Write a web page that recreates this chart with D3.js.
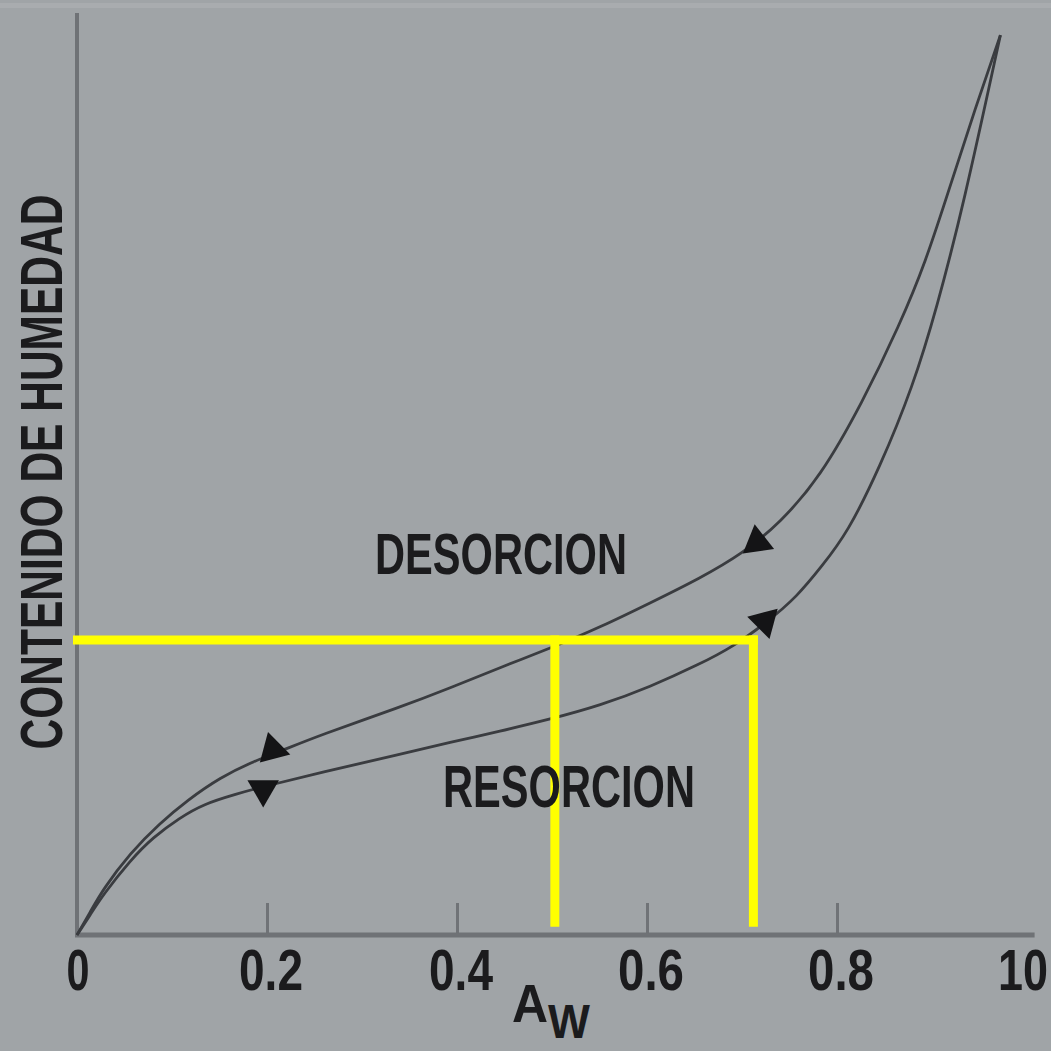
<!DOCTYPE html>
<html>
<head>
<meta charset="utf-8">
<script src="https://cdn.jsdelivr.net/npm/d3@7"></script>
<style>
  html, body { margin: 0; padding: 0; background: #a0a4a7; }
  svg { display: block; }
  text { font-family: "Liberation Sans", Arial, sans-serif; }
</style>
</head>
<body>
<svg id="chart" width="1051" height="1051"></svg>
<script>
// ---- data (aw, moisture content in arbitrary units 0..100) ----
const desorcionAw = [0, 0.014, 0.027, 0.056, 0.087, 0.116, 0.151, 0.185, 0.211, 0.256, 0.340, 0.393, 0.445, 0.503, 0.551, 0.603, 0.656, 0.701, 0.740, 0.782, 0.827, 0.866, 0.893, 0.919, 0.945, 0.972];
const desorcionM  = [0, 2.5, 4.9, 8.9, 12.1, 14.6, 17.1, 18.8, 19.8, 21.7, 24.7, 26.8, 29.0, 31.3, 33.4, 36.0, 38.7, 41.4, 44.7, 49.6, 57.8, 66.2, 72.9, 81.2, 89.5, 97.6];
const resorcionAw = [0, 0.014, 0.027, 0.056, 0.080, 0.108, 0.133, 0.168, 0.196, 0.256, 0.340, 0.393, 0.445, 0.498, 0.551, 0.603, 0.656, 0.691, 0.726, 0.758, 0.784, 0.811, 0.845, 0.880, 0.905, 0.933, 0.972];
const resorcionM  = [0, 2.2, 4.3, 8.1, 10.6, 12.7, 14.2, 15.3, 16.1, 17.6, 19.6, 20.9, 22.1, 23.4, 24.9, 26.9, 29.4, 31.3, 33.9, 36.7, 40.0, 43.6, 50.7, 59.5, 68.0, 79.1, 97.6];

// arrowheads: position and direction
const arrowAw  = [0.716, 0.724, 0.206, 0.196];
const arrowM   = [42.6, 34.0, 20.1, 15.8];
const arrowRot = [-8, 165, -15, 180];

// highlighted reading (yellow guide lines)
const guideLevel = 32;
const guideAw = [0.503, 0.712];

const tickValues = [0.2, 0.4, 0.6, 0.8];
const tickLabelValues = [0, 0.2, 0.4, 0.6, 0.8, 1.0];
const tickLabels = ["0", "0.2", "0.4", "0.6", "0.8", "10"];
const tickLabelWidths = [23, 64, 64, 66, 66, 50];

// ---- layout ----
const svg = d3.select("#chart");
const W = 1051, H = 1051;
const x = d3.scaleLinear().domain([0, 1]).range([77, 1027]);
const y = d3.scaleLinear().domain([0, 100]).range([935, 13]);

svg.append("rect").attr("width", W).attr("height", H).attr("fill", "#a0a4a7");
// faint light band at the top edge
svg.append("rect").attr("x", 0).attr("y", 3).attr("width", W).attr("height", 5).attr("fill", "#a9acaf");

// condensed text helper: compress horizontally to a target width
function fitText(parent, str, cx, cy, size, width, anchor, rotate) {
  const g = parent.append("g");
  const t = g.append("text")
    .attr("font-size", size).attr("font-weight", "bold").attr("fill", "#1b1b1d")
    .attr("text-anchor", anchor).text(str);
  const len = t.node().getComputedTextLength();
  const s = width / len;
  g.attr("transform", `translate(${cx},${cy})${rotate ? ` rotate(${rotate})` : ""} scale(${s},1)`);
  return t;
}

// ticks
const axisG = svg.append("g").attr("transform", `translate(0,${y(0)})`)
  .call(d3.axisBottom(x).tickValues(tickValues).tickSizeInner(-32).tickSizeOuter(0).tickFormat(""));
axisG.select(".domain").remove();
axisG.selectAll(".tick line").attr("stroke", "#707377").attr("stroke-width", 3);

// axis lines
svg.append("line").attr("x1", x(0)).attr("x2", x(0)).attr("y1", y(100)).attr("y2", y(0))
  .attr("stroke", "#6f7276").attr("stroke-width", 4);
svg.append("line").attr("x1", x(0) - 2).attr("x2", x(1.008)).attr("y1", y(0)).attr("y2", y(0))
  .attr("stroke", "#6f7276").attr("stroke-width", 5);

// curves
const line = d3.line().x(d => x(d[0])).y(d => y(d[1])).curve(d3.curveBasis);
const des = desorcionAw.map((a, i) => [a, desorcionM[i]]);
const res = resorcionAw.map((a, i) => [a, resorcionM[i]]);
[des, res].forEach(pts => {
  svg.append("path").attr("d", line(pts)).attr("fill", "none")
    .attr("stroke", "#3a3c40").attr("stroke-width", 2.8).attr("stroke-linejoin", "round");
});

// arrowheads
const tri = d3.symbol().type(d3.symbolTriangle).size(430);
arrowAw.forEach((a, i) => {
  svg.append("path").attr("d", tri())
    .attr("transform", `translate(${x(a)},${y(arrowM[i])}) rotate(${arrowRot[i]})`)
    .attr("fill", "#141416");
});

// yellow guide lines
const guide = svg.append("g").attr("fill", "none").attr("stroke", "#ffff00")
  .attr("stroke-width", 9).attr("stroke-linecap", "butt");
guide.append("path").attr("d",
  `M${x(0) - 4},${y(guideLevel)} H${x(guideAw[1]) + 4.5}`);
guideAw.forEach(a => {
  guide.append("line").attr("x1", x(a)).attr("x2", x(a))
    .attr("y1", y(guideLevel) - 4.5).attr("y2", y(0.9));
});

// tick labels
const tl = svg.append("g");
tickLabelValues.forEach((d, i) => {
  const cx = i === 0 ? x(d) + 1 : (i === 5 ? x(d) - 4 : x(d) + 4);
  fitText(tl, tickLabels[i], cx, 990, 58, tickLabelWidths[i], "middle");
});

// x-axis title A_W
const xg = svg.append("g");
const xt = xg.append("text").attr("font-size", 54).attr("font-weight", "bold").attr("fill", "#1b1b1d");
xt.append("tspan").text("A");
xt.append("tspan").attr("dy", 16).attr("font-size", 48).text("W");
const xtLen = xt.node().getComputedTextLength();
xg.attr("transform", `translate(512,1022) scale(${78 / xtLen},1)`);

// y-axis title
fitText(svg, "CONTENIDO DE HUMEDAD", 62, 472, 60, 555, "middle", -90);

// curve labels
fitText(svg, "DESORCION", 375, 574, 58, 252, "start");
fitText(svg, "RESORCION", 443, 807, 60, 252, "start");
</script>
</body>
</html>
